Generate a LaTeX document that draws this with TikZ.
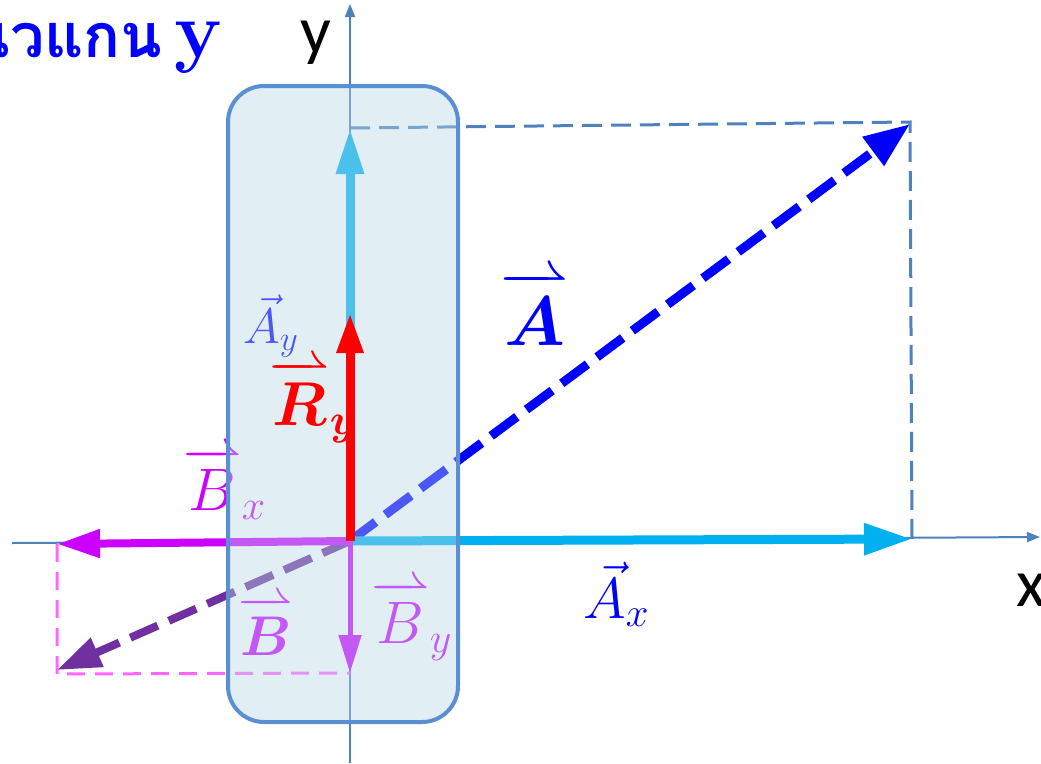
\RequirePackage{fix-cm}
\documentclass[tikz,border=0pt]{standalone}
\usepackage{amsmath}
\usepackage{fontspec}
\usetikzlibrary{arrows.meta}
\newfontfamily\thaifont[Script=Thai]{Loma}
\newfontfamily\axisfont{Carlito}

\definecolor{axisblue}{RGB}{79,129,189}
\definecolor{cyanvec}{RGB}{0,176,240}
\definecolor{bluevec}{RGB}{0,0,255}
\definecolor{magvec}{RGB}{204,0,255}
\definecolor{purplevec}{RGB}{112,48,160}
\definecolor{pinkdash}{RGB}{255,102,255}
\definecolor{boxfill}{RGB}{183,216,230}
\definecolor{boxline}{RGB}{91,143,212}

% long harpoon over a letter
\makeatletter
\def\rightharpoonfill@{\arrowfill@\relbar\relbar\rightharpoonup}
\newcommand{\ovharp}{\mathpalette{\overarrow@\rightharpoonfill@}}
\makeatother

\newcommand{\fs}[1]{\fontsize{#1}{#1}\selectfont}

\begin{document}
\begin{tikzpicture}[x=1pt,y=-1pt,
		axis/.style={axisblue, line width=2pt, -{Triangle[length=13pt,width=10pt]}},
		proj/.style={axisblue, line width=3pt, dash pattern=on 20pt off 9pt},
		pinkproj/.style={pinkdash, line width=3pt, dash pattern=on 18pt off 10pt},
		vec/.style={line width=#1},
		lbl/.style={inner sep=0pt, anchor=base west}]
		\useasboundingbox (0,0) rectangle (1041,763);

		% points
		\coordinate (O) at (350,541);
		\coordinate (xl) at (12,543);
		\coordinate (xr) at (1040,537);
		\coordinate (yb) at (350,763);
		\coordinate (yt) at (350,4);
		\coordinate (A) at (910,124);
		\coordinate (Ac) at (910,122);
		\coordinate (Ax) at (912,539);
		\coordinate (Ay) at (350,128);
		\coordinate (Ry) at (350,313);
		\coordinate (Bx) at (57,544);
		\coordinate (B) at (57,670);
		\coordinate (Bc) at (57,674);
		\coordinate (By) at (350,673);

		% axes
		\draw[axis] (xl) -- (xr);
		\draw[axis] (yb) -- (yt);
		\node[font=\axisfont\fs{68}, anchor=base] (ylab) at (316,53) {y};
		\node[font=\axisfont\fs{68}, anchor=base] (xlab) at (1031,606) {x};

		% title, cut at the left edge
		\node[font=\thaifont\bfseries\fs{61}, text=bluevec, inner sep=0pt, anchor=base east] (title) at (222,57)
			{แนวแกน\hspace{12pt}{\rmfamily\fs{80}y}};

		% projections
		\draw[proj] (Ay) -- (Ac) -- (Ax);
		\draw[pinkproj] (Bx) -- (Bc) -- (By);

		% A and its components
		\draw[bluevec, line width=9pt, dash pattern=on 32pt off 12pt,
			-{Triangle[length=46pt,width=34pt]}] (O) -- (A);
		\draw[cyanvec, vec=9pt, -{Triangle[length=48pt,width=30pt]}] (O) -- (Ax);
		\draw[cyanvec, vec=9pt, -{Triangle[length=46pt,width=26pt]}] (O) -- (Ay);

		% B and its components
		\draw[purplevec, line width=8pt, dash pattern=on 30pt off 12pt,
			-{Triangle[length=44pt,width=30pt]}] (O) -- (B);
		\draw[magvec, vec=8pt, -{Triangle[length=43pt,width=27pt]}] (O) -- (Bx);
		\draw[magvec, vec=5pt, -{Triangle[length=38pt,width=22pt]}] (O) -- (By);

		% labels
		\node[lbl, text=bluevec, font=\fs{70}] (lA) at (500,345) {$\ovharp{\boldsymbol{A}}$};
		\node[lbl, text=bluevec, font=\fs{58}] (lAx) at (583,618) {$\vec{A}_x$};
		\node[lbl, text=bluevec, font=\fs{50}] (lAy) at (243,343) {$\vec{A}_y$};
		\node[lbl, text=magvec, font=\fs{60}] (lBx) at (183,510) {$\ovharp{B}_x$};
		\node[lbl, text=magvec, font=\fs{56}] (lB) at (238,655) {$\ovharp{\boldsymbol{B}}$};
		\node[lbl, text=magvec, font=\fs{60}] (lBy) at (371,643) {$\ovharp{B}_y$};

		% box round the y components
		\draw[boxline, line width=4pt, fill=boxfill, fill opacity=0.41, rounded corners=36pt]
			(228,86) rectangle (458,722);

		% sum along y
		\draw[red, vec=9pt, -{Triangle[length=40pt,width=25pt]}] (O) -- (Ry);
		\node[lbl, text=red, font=\fs{62}] (lRy) at (269,425) {$\ovharp{\boldsymbol{R}}_{\boldsymbol{y}}$};
	\end{tikzpicture}
\end{document}
